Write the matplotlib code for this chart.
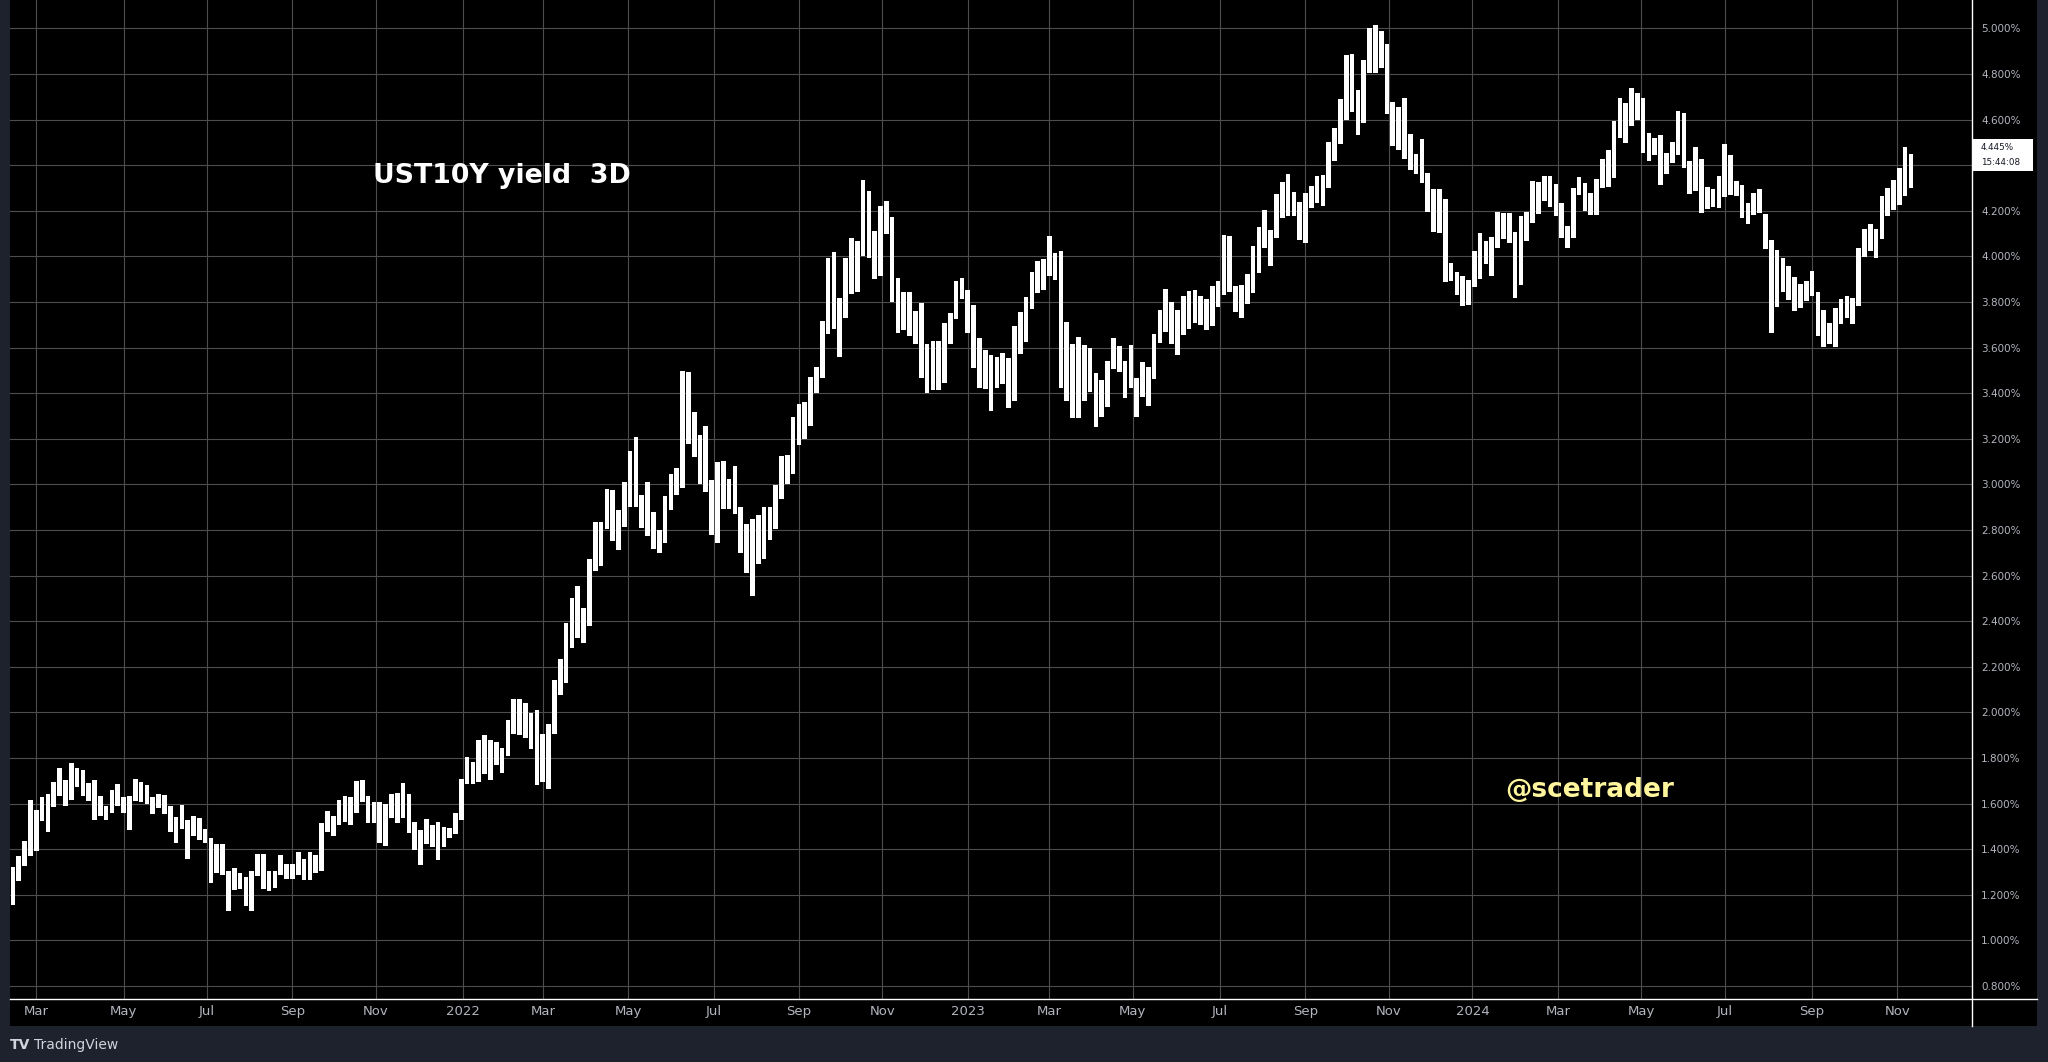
import numpy as np
import matplotlib
matplotlib.use("Agg")
import matplotlib.pyplot as plt
from matplotlib.lines import Line2D
from matplotlib.patches import Rectangle
import warnings
warnings.filterwarnings("ignore")

# ---------------- data (UST10Y yield, 3-day bars) ----------------
start_date = "2021-02-11"
bar_step_days = 3

highs = [
    1.320, 1.369, 1.437, 1.617, 1.573, 1.629, 1.644, 1.693, 1.758, 1.705,
    1.778, 1.758, 1.749, 1.690, 1.705, 1.635, 1.591, 1.661, 1.687, 1.627,
    1.632, 1.708, 1.696, 1.683, 1.627, 1.644, 1.639, 1.588, 1.540, 1.595,
    1.527, 1.547, 1.537, 1.489, 1.451, 1.424, 1.424, 1.306, 1.319, 1.296,
    1.278, 1.306, 1.379, 1.380, 1.303, 1.303, 1.376, 1.337, 1.337, 1.389,
    1.358, 1.389, 1.376, 1.515, 1.566, 1.544,
    1.615, 1.634, 1.627, 1.700, 1.704, 1.634, 1.605, 1.608, 1.597, 1.641,
    1.647, 1.690, 1.641, 1.520, 1.483, 1.532, 1.507, 1.521, 1.498, 1.495,
    1.558, 1.710, 1.805, 1.783, 1.880, 1.901, 1.880, 1.871, 1.846, 1.967,
    2.061, 2.061, 2.043, 1.999, 2.011, 1.907, 1.951, 2.143, 2.236, 2.394,
    2.504, 2.555, 2.456, 2.675, 2.836, 2.836, 2.982, 2.977, 2.888, 3.011,
    3.147, 3.206, 2.954, 3.011,
    2.881, 2.800, 2.950, 3.048, 3.074, 3.498, 3.495, 3.320, 3.217, 3.257,
    3.020, 3.099, 3.103, 3.023, 3.081, 2.901, 2.825, 2.847, 2.866, 2.901,
    2.901, 2.998, 3.125, 3.128, 3.296, 3.352, 3.363, 3.472, 3.516, 3.717,
    3.995, 4.020, 3.820, 3.995, 4.083, 4.068, 4.336, 4.287, 4.112, 4.222,
    4.244, 4.173, 3.907, 3.842, 3.842, 3.761, 3.798, 3.615, 3.630, 3.630,
    3.710, 3.754, 3.893,
    3.907, 3.851, 3.786, 3.643, 3.589, 3.567, 3.560, 3.577, 3.555, 3.694,
    3.757, 3.822, 3.931, 3.978, 3.987, 4.092, 4.015, 4.022, 3.713, 3.615,
    3.647, 3.611, 3.599, 3.490, 3.458, 3.541, 3.643, 3.606, 3.541, 3.611,
    3.468, 3.538, 3.516, 3.659, 3.764, 3.859, 3.800, 3.764, 3.825, 3.847,
    3.851, 3.825, 3.812, 3.869, 3.891, 4.096, 4.092, 3.869, 3.873, 3.921,
    4.044, 4.128, 4.206, 4.114,
    4.274, 4.328, 4.362, 4.284, 4.241, 4.278, 4.310, 4.354, 4.359, 4.500,
    4.563, 4.690, 4.882, 4.886, 4.730, 4.860, 5.000, 5.017, 4.988, 4.934,
    4.678, 4.657, 4.694, 4.536, 4.449, 4.515, 4.366, 4.296, 4.296, 4.252,
    3.972, 3.931, 3.913, 3.898, 4.026, 4.103, 4.070, 4.085, 4.194, 4.190,
    4.191, 4.106, 4.179, 4.197, 4.332, 4.328, 4.354, 4.354, 4.318, 4.235,
    4.133, 4.300, 4.350, 4.322,
    4.278, 4.338, 4.428, 4.465, 4.596, 4.695, 4.672, 4.739, 4.717, 4.695,
    4.542, 4.520, 4.533, 4.455, 4.504, 4.640, 4.629, 4.418, 4.482, 4.428,
    4.304, 4.297, 4.351, 4.494, 4.446, 4.329, 4.315, 4.236, 4.280, 4.294,
    4.188, 4.071, 4.027, 3.995, 3.957, 3.908, 3.879, 3.892, 3.936, 3.844,
    3.765, 3.707, 3.772, 3.812, 3.826, 3.820, 4.035, 4.122, 4.144, 4.119,
    4.264, 4.301, 4.336, 4.389, 4.482, 4.450,
]

lows = [
    1.154, 1.259, 1.325, 1.372, 1.391, 1.522, 1.474, 1.584, 1.632, 1.588,
    1.617, 1.671, 1.632, 1.613, 1.527, 1.547, 1.530, 1.559, 1.588, 1.559,
    1.483, 1.610, 1.606, 1.598, 1.554, 1.581, 1.554, 1.474, 1.427, 1.489,
    1.357, 1.456, 1.439, 1.427, 1.252, 1.296, 1.288, 1.127, 1.220, 1.225,
    1.152, 1.127, 1.281, 1.225, 1.215, 1.230, 1.288, 1.269, 1.269, 1.288,
    1.263, 1.263, 1.296, 1.303, 1.474, 1.456,
    1.505, 1.521, 1.505, 1.561, 1.605, 1.513, 1.513, 1.429, 1.412, 1.536,
    1.513, 1.539, 1.469, 1.397, 1.330, 1.422, 1.408, 1.352, 1.408, 1.451,
    1.466, 1.527, 1.685, 1.688, 1.697, 1.729, 1.703, 1.768, 1.736, 1.807,
    1.907, 1.900, 1.890, 1.841, 1.681, 1.697, 1.663, 1.907, 2.075, 2.127,
    2.282, 2.328, 2.306, 2.380, 2.621, 2.643, 2.803, 2.752, 2.713, 2.815,
    2.899, 2.901, 2.811, 2.772,
    2.716, 2.701, 2.745, 2.887, 2.953, 2.986, 3.176, 3.122, 3.004, 2.965,
    2.777, 2.745, 2.894, 2.894, 2.869, 2.701, 2.613, 2.511, 2.653, 2.672,
    2.755, 2.803, 2.938, 3.004, 3.048, 3.172, 3.198, 3.257, 3.400, 3.469,
    3.659, 3.681, 3.561, 3.732, 3.837, 3.846, 4.002, 3.995, 3.900, 3.915,
    4.100, 3.802, 3.666, 3.678, 3.651, 3.618, 3.469, 3.399, 3.415, 3.415,
    3.447, 3.618, 3.725,
    3.812, 3.665, 3.509, 3.424, 3.417, 3.324, 3.421, 3.439, 3.334, 3.367,
    3.571, 3.625, 3.771, 3.841, 3.851, 3.914, 3.898, 3.421, 3.367, 3.293,
    3.290, 3.367, 3.404, 3.254, 3.297, 3.341, 3.506, 3.494, 3.378, 3.424,
    3.297, 3.385, 3.345, 3.461, 3.622, 3.669, 3.614, 3.570, 3.657, 3.684,
    3.710, 3.701, 3.679, 3.695, 3.778, 3.832, 3.844, 3.757, 3.730, 3.793,
    3.841, 3.927, 4.036, 3.958,
    4.080, 4.168, 4.179, 4.176, 4.074, 4.058, 4.211, 4.235, 4.220, 4.299,
    4.420, 4.493, 4.599, 4.634, 4.532, 4.587, 4.803, 4.803, 4.828, 4.627,
    4.483, 4.468, 4.427, 4.379, 4.362, 4.322, 4.194, 4.106, 4.103, 3.888,
    3.892, 3.832, 3.783, 3.789, 3.866, 3.902, 3.968, 3.914, 4.038, 4.077,
    4.058, 3.818, 3.876, 4.066, 4.147, 4.187, 4.242, 4.216, 4.176, 4.082,
    4.038, 4.082, 4.270, 4.201,
    4.180, 4.180, 4.300, 4.304, 4.344, 4.519, 4.497, 4.571, 4.600, 4.453,
    4.418, 4.446, 4.315, 4.360, 4.409, 4.446, 4.387, 4.275, 4.287, 4.191,
    4.210, 4.217, 4.213, 4.261, 4.268, 4.264, 4.169, 4.141, 4.180, 4.191,
    4.032, 3.666, 3.780, 3.845, 3.809, 3.762, 3.775, 3.806, 3.828, 3.653,
    3.605, 3.616, 3.602, 3.702, 3.729, 3.702, 3.784, 3.998, 4.024, 3.995,
    4.078, 4.178, 4.202, 4.227, 4.265, 4.301,
]

last_close = 4.445
countdown = "15:44:08"

tick_months = ["2021-03-01", "2021-05-01", "2021-07-01", "2021-09-01", "2021-11-01",
               "2022-01-01", "2022-03-01", "2022-05-01", "2022-07-01", "2022-09-01",
               "2022-11-01", "2023-01-01", "2023-03-01", "2023-05-01", "2023-07-01",
               "2023-09-01", "2023-11-01", "2024-01-01", "2024-03-01", "2024-05-01",
               "2024-07-01", "2024-09-01", "2024-11-01"]
tick_labels = ["Mar", "May", "Jul", "Sep", "Nov", "2022", "Mar", "May", "Jul", "Sep",
               "Nov", "2023", "Mar", "May", "Jul", "Sep", "Nov", "2024", "Mar", "May",
               "Jul", "Sep", "Nov"]
ytick_values = [0.8, 1.0, 1.2, 1.4, 1.6, 1.8, 2.0, 2.2, 2.4, 2.6, 2.8, 3.0,
                3.2, 3.4, 3.6, 3.8, 4.0, 4.2, 4.4, 4.6, 4.8, 5.0]
hidden_ytick = 4.4  # covered by the last-price label

title_text = "UST10Y yield  3D"
watermark_text = "@scetrader"

# ---------------- figure ----------------
W, H = 2048, 1062
FRAME = "#1e222d"
GRID = "#4d4d4d"
AXTXT = "#b2b5be"
fig = plt.figure(figsize=(W / 100, H / 100), dpi=100, facecolor=FRAME)


def fx(x):
    return x / W


def fy(y):
    return 1 - y / H


# black chart panel (plot + price scale + time scale)
fig.add_artist(Rectangle((fx(10), fy(1026)), fx(2037) - fx(10), fy(0) - fy(1026),
                         transform=fig.transFigure, facecolor="black",
                         edgecolor="none", zorder=0))

ax = fig.add_axes([fx(10), fy(999), fx(1972) - fx(10), fy(0) - fy(999)])
ax.set_zorder(1)
ax.set_facecolor("black")

highs_a = np.array(highs)
lows_a = np.array(lows)
n = len(highs_a)
xi = np.arange(n)
ax.bar(xi, highs_a - lows_a, bottom=lows_a, width=0.8, color="white",
       linewidth=0, zorder=3)

# time axis positions from dates (3 business days per bar)
tick_pos = [np.busday_count(start_date, d) / bar_step_days for d in tick_months]
ax.set_xticks(tick_pos)
ax.set_xticklabels(tick_labels, family=["Liberation Sans Narrow", "DejaVu Sans"],
                   fontsize=9.5, color=AXTXT)
ax.set_yticks(ytick_values)
ax.set_yticklabels(["" if abs(v - hidden_ytick) < 1e-9 else "%.3f%%" % v
                    for v in ytick_values], family="DejaVu Sans",
                   fontsize=7.5, color=AXTXT)
ax.yaxis.tick_right()
ax.tick_params(axis="both", length=0)
ax.tick_params(axis="y", pad=6.5)
ax.tick_params(axis="x", pad=4.5)
ax.grid(True, color=GRID, linewidth=0.8, zorder=0)
ax.set_axisbelow(True)
ax.set_xlim(-0.515, 336.48)
ax.set_ylim(0.743, 5.125)
for s in ax.spines.values():
    s.set_visible(False)

# white scale borders
fig.add_artist(Line2D([fx(10), fx(2037)], [fy(999), fy(999)], transform=fig.transFigure,
                      color="white", linewidth=1.0, zorder=5))
fig.add_artist(Line2D([fx(1972), fx(1972)], [fy(0), fy(1026)], transform=fig.transFigure,
                      color="white", linewidth=1.0, zorder=5))

# last price label
yl = ax.transData.transform((0, last_close))[1]
ylab = H - yl
fig.add_artist(Rectangle((fx(1973), fy(ylab + 16)), fx(2033) - fx(1973), 32 / H,
                         transform=fig.transFigure, facecolor="white",
                         edgecolor="none", zorder=6))
fig.text(fx(1981), fy(ylab - 7.5), "%.3f%%" % last_close, fontsize=6.3, color="#131722",
         family="DejaVu Sans", va="center", ha="left", zorder=7)
fig.text(fx(1981), fy(ylab + 7.5), countdown, fontsize=6.3, color="#131722",
         family="DejaVu Sans", va="center", ha="left", zorder=7)

# title and watermark
fig.text(fx(373), fy(183), title_text, fontsize=19.3, fontweight="bold",
         family="DejaVu Sans", color="white", ha="left", va="baseline",
         zorder=8)
fig.text(fx(1505), fy(797), watermark_text, fontsize=19, fontweight="bold",
         family="DejaVu Sans", color="#fff59d", ha="left", va="baseline",
         zorder=8)

# TradingView footer
fig.text(fx(10), fy(1045), "TV", fontsize=10, fontweight="bold",
         family=["Liberation Sans Narrow", "DejaVu Sans"], color="#d1d4dc",
         ha="left", va="center")
fig.text(fx(34), fy(1045), "TradingView", fontsize=10,
         family=["Liberation Sans Narrow", "DejaVu Sans"], color="#d1d4dc",
         ha="left", va="center")

fig.savefig("out.png", dpi=100, facecolor=FRAME)
